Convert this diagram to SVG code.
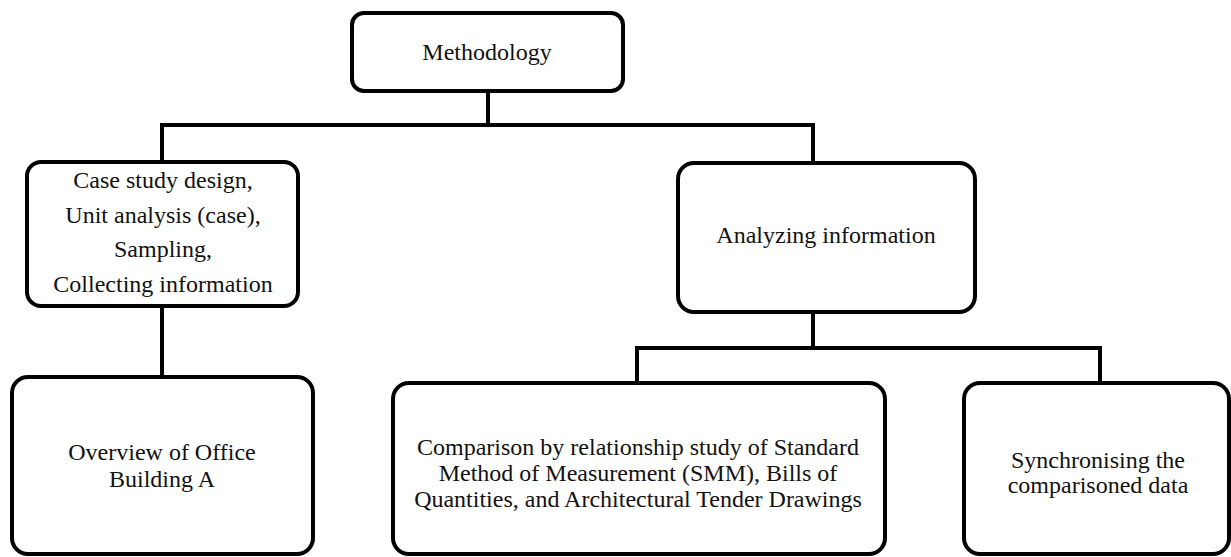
<svg xmlns="http://www.w3.org/2000/svg" width="1231" height="557" viewBox="0 0 1231 557">
<style>
.box{fill:#fff;stroke:#000;stroke-width:4}
.conn{fill:none;stroke:#000;stroke-width:4}
text{font-family:"Liberation Serif","Times New Roman",serif;font-size:24px;fill:#111;text-anchor:middle}
</style>
<rect width="1231" height="557" fill="#fff"/>
<g id="connectors">
<path class="conn" d="M488 91V125M162 162V125H813V163"/>
<path class="conn" d="M162 306V377"/>
<path class="conn" d="M813 312V348M637 383V348H1100V383"/>
</g>
<g id="methodology">
<rect class="box" x="352" y="13" width="271" height="78" rx="12"/>
<text x="487" y="60">Methodology</text>
</g>
<g id="case-study">
<rect class="box" x="27" y="162" width="271" height="144" rx="14"/>
<text x="163" y="188">Case study design,</text>
<text x="163" y="223">Unit analysis (case),</text>
<text x="163" y="257">Sampling,</text>
<text x="163" y="292">Collecting information</text>
</g>
<g id="analyzing">
<rect class="box" x="678" y="163" width="297" height="149" rx="16"/>
<text x="826" y="243">Analyzing information</text>
</g>
<g id="overview">
<rect class="box" x="12" y="377" width="301" height="177" rx="16"/>
<text x="162" y="460">Overview of Office</text>
<text x="162" y="487">Building A</text>
</g>
<g id="comparison">
<rect class="box" x="393" y="383" width="492" height="171" rx="16"/>
<text x="638" y="455">Comparison by relationship study of Standard</text>
<text x="638" y="481">Method of Measurement (SMM), Bills of</text>
<text x="638" y="507">Quantities, and Architectural Tender Drawings</text>
</g>
<g id="synchronising">
<rect class="box" x="964" y="383" width="265" height="171" rx="16"/>
<text x="1098" y="468">Synchronising the</text>
<text x="1098" y="493">comparisoned data</text>
</g>
</svg>
